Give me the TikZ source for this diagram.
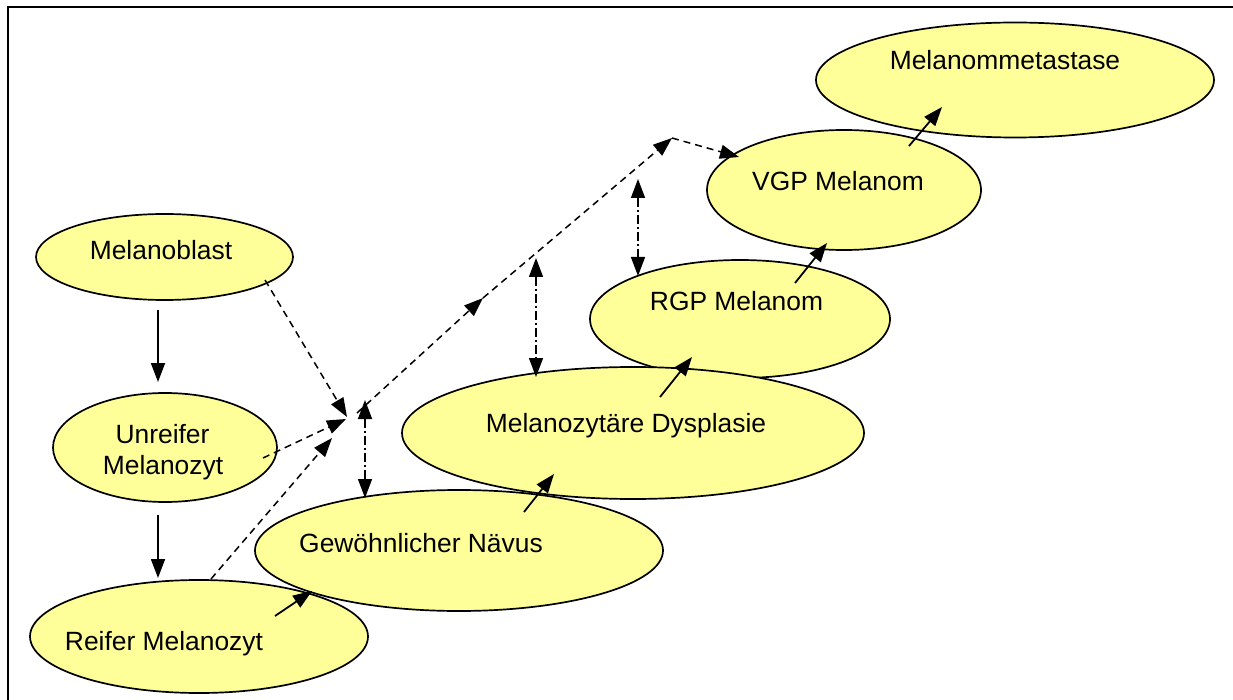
\documentclass[tikz,border=0pt]{standalone}
\usepackage{fontspec}
\setmainfont{Liberation Sans}
\usetikzlibrary{shapes.geometric,arrows.meta}
\definecolor{ellfill}{HTML}{FFFF99}
\begin{document}
\begin{tikzpicture}[x=1pt,y=-1pt,
  ell/.style={ellipse,draw=black,line width=1.7pt,fill=ellfill,inner sep=0pt},
  lbl/.style={anchor=base,inner sep=0pt,font=\fontsize{26.4}{31}\selectfont},
  arr/.style={line width=1.8pt,-{Triangle[length=19pt,width=14pt]}},
  darr/.style={line width=1.5pt,-{Triangle[length=19pt,width=14pt]},dash pattern=on 7pt off 5pt},
  ddarr/.style={line width=1.5pt,{Triangle[length=19pt,width=14pt]}-{Triangle[length=19pt,width=14pt]},dash pattern=on 9pt off 3pt on 2pt off 3pt}]
\useasboundingbox (0,0) rectangle (1233,700);
\fill[white] (0,0) rectangle (1233,700);
\draw[line width=2.2pt] (8,700) -- (8,7) -- (1233,7);

% ellipses
\node[ell,minimum width=398pt,minimum height=115pt] (mm) at (1015,80) {};
\node[ell,minimum width=274pt,minimum height=120pt] (vgp) at (844,190) {};
\node[ell,minimum width=300pt,minimum height=118pt] (rgp) at (740,319) {};
\node[ell,minimum width=462pt,minimum height=132pt] (md) at (633,433) {};
\node[ell,minimum width=408pt,minimum height=121pt] (gn) at (459,550.5) {};
\node[ell,minimum width=338pt,minimum height=113pt] (rm) at (199,636.5) {};
\node[ell,minimum width=257pt,minimum height=86pt] (mb) at (164.5,257) {};
\node[ell,minimum width=224pt,minimum height=109pt] (um) at (165,447.5) {};

% labels
\node[lbl] (mmt) at (1005,70) {Melanommetastase};
\node[lbl] (vgpt) at (838,191) {VGP Melanom};
\node[lbl] (rgpt) at (736.5,310) {RGP Melanom};
\node[lbl] (mdt) at (626,432) {Melanozytäre Dysplasie};
\node[lbl] (gnt) at (421,552) {Gewöhnlicher Nävus};
\node[lbl] (rmt) at (164,650) {Reifer Melanozyt};
\node[lbl] (mbt) at (161,260) {Melanoblast};
\node[lbl] (umt1) at (162.5,443) {Unreifer};
\node[lbl] (umt2) at (163,474) {Melanozyt};

% arrow end points
\coordinate (p1s) at (158,310);  \coordinate (p1e) at (158,382);
\coordinate (p2s) at (158,515);  \coordinate (p2e) at (158,578);
\coordinate (p3s) at (275,616);  \coordinate (p3e) at (312,591);
\coordinate (p4s) at (524,512);  \coordinate (p4e) at (554,474);
\coordinate (p5s) at (660,397);  \coordinate (p5e) at (692,357);
\coordinate (p6s) at (795,283);  \coordinate (p6e) at (827,243);
\coordinate (p7s) at (909,146);  \coordinate (p7e) at (942,107);

\coordinate (d1s) at (265,280);  \coordinate (d1e) at (347,417);
\coordinate (d2s) at (263,458);  \coordinate (d2e) at (346,419);
\coordinate (d3s) at (211,579);  \coordinate (d3e) at (332,438);
\coordinate (c0) at (357,413);
\coordinate (c1) at (483,298);
\coordinate (c2) at (672,138);
\coordinate (c3) at (739,157);

\coordinate (v1a) at (365,400); \coordinate (v1b) at (365,498);
\coordinate (v2a) at (536,258); \coordinate (v2b) at (536,377);
\coordinate (v3a) at (638,179); \coordinate (v3b) at (638,276);

% solid arrows
\draw[arr] (p1s) -- (p1e);
\draw[arr] (p2s) -- (p2e);
\draw[arr] (p3s) -- (p3e);
\draw[arr] (p4s) -- (p4e);
\draw[arr] (p5s) -- (p5e);
\draw[arr] (p6s) -- (p6e);
\draw[arr] (p7s) -- (p7e);

% dashed arrows
\draw[darr] (d1s) -- (d1e);
\draw[darr] (d2s) -- (d2e);
\draw[darr] (d3s) -- (d3e);
\draw[darr] (c0) -- (c1);
\draw[darr] (c1) -- (c2);
\draw[darr] (c2) -- (c3);

% dash-dot double arrows
\draw[ddarr] (v1a) -- (v1b);
\draw[ddarr] (v2a) -- (v2b);
\draw[ddarr] (v3a) -- (v3b);
\end{tikzpicture}
\end{document}
